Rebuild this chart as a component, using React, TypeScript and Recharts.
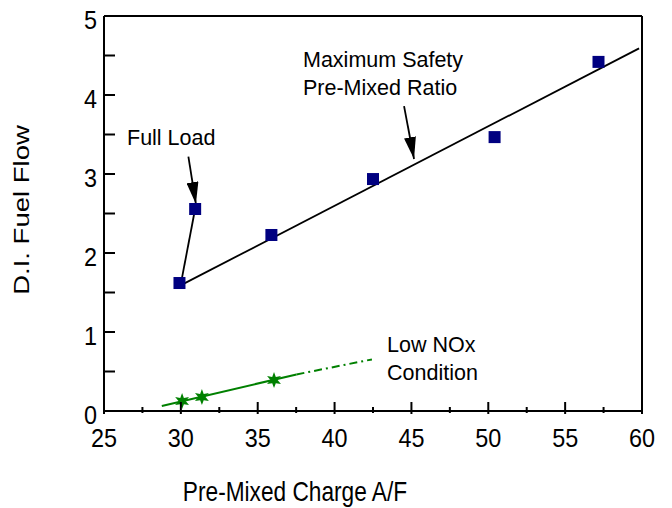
import React from 'react';
import { ComposedChart, XAxis, YAxis, Scatter, Line, ReferenceLine } from 'recharts';

// ---- tick values ----
const xTicks = [25, 27.5, 30, 32.5, 35, 37.5, 40, 42.5, 45, 47.5, 50, 52.5, 55, 57.5, 60];
const xTickLabels = [25, 30, 35, 40, 45, 50, 55, 60];
const yTicks = [0, 0.5, 1, 1.5, 2, 2.5, 3, 3.5, 4, 4.5, 5];
const yTickLabels = [0, 1, 2, 3, 4, 5];

// ---- D.I. fuel flow (blue squares) ----
const diAF = [29.91, 30.93, 35.89, 42.5, 50.41, 57.17];
const diFlow = [1.62, 2.557, 2.228, 2.936, 3.467, 4.419];

// ---- maximum safety pre-mixed ratio line ----
const safetyAF = [29.98, 59.81];
const safetyFlow = [1.59, 4.59];

// ---- full load segment ----
const fullLoadAF = [29.98, 30.93];
const fullLoadFlow = [1.59, 2.56];

// ---- low NOx condition (green) ----
const noxAF = [30.08, 31.37, 36.06];
const noxFlow = [0.126, 0.177, 0.392];
const noxFitAF = [28.76, 37.52];
const noxFitFlow = [0.063, 0.463];
const noxExtAF = [37.52, 42.43];
const noxExtFlow = [0.463, 0.653];

// ---- annotation arrows (tail -> tip) ----
const fullLoadArrowAF = [30.49, 30.98];
const fullLoadArrowFlow = [3.22, 2.62];
const safetyArrowAF = [44.52, 45.17];
const safetyArrowFlow = [3.86, 3.19];

const zip = (xs: number[], ys: number[]) => xs.map((x, i) => ({ x, y: ys[i] }));

const diData = zip(diAF, diFlow);
const safetyData = zip(safetyAF, safetyFlow);
const fullLoadData = zip(fullLoadAF, fullLoadFlow);
const noxData = zip(noxAF, noxFlow);
const noxFitData = zip(noxFitAF, noxFitFlow);
const noxExtData = zip(noxExtAF, noxExtFlow);
const fullLoadArrowData = zip(fullLoadArrowAF, fullLoadArrowFlow);
const safetyArrowData = zip(safetyArrowAF, safetyArrowFlow);

const FONT = '"Liberation Sans", Arial, Helvetica, sans-serif';
const BLUE = '#000080';
const GREEN = '#008000';

const XTick = (props: any) => {
  const { x, y, payload } = props;
  const v = payload.value;
  const major = xTickLabels.includes(v);
  return (
    <g>
      <line x1={x} x2={x} y1={y - (major ? 9 : 4)} y2={y + (major ? 3 : 2)} stroke="#000" strokeWidth={2} />
      {major && (
        <text
          transform={`translate(${x},${y + 36}) scale(0.9,1)`}
          textAnchor="middle"
          fontSize={26}
          fontFamily={FONT}
          fill="#000"
        >
          {v}
        </text>
      )}
    </g>
  );
};

const YTick = (props: any) => {
  const { x, y, payload } = props;
  const v = payload.value;
  const major = yTickLabels.includes(v);
  return (
    <g>
      <line x1={x} x2={x + 11} y1={y} y2={y} stroke="#000" strokeWidth={2} />
      {major && (
        <text
          transform={`translate(${x - 7},${y + 13}) scale(0.9,1)`}
          textAnchor="end"
          fontSize={26}
          fontFamily={FONT}
          fill="#000"
        >
          {v}
        </text>
      )}
    </g>
  );
};

const SquareShape = (props: any) => {
  const { cx, cy } = props;
  return <rect x={cx - 6} y={cy - 6} width={12} height={12} fill={BLUE} />;
};

const StarShape = (props: any) => {
  const { cx, cy } = props;
  const pts: string[] = [];
  for (let i = 0; i < 12; i++) {
    const r = i % 2 === 0 ? 8 : 3.6;
    const a = (Math.PI / 6) * i - Math.PI / 2;
    pts.push(`${cx + r * Math.cos(a)},${cy + r * Math.sin(a)}`);
  }
  return <polygon points={pts.join(' ')} fill={GREEN} />;
};

const annot = { fontSize: 21.5, fontFamily: FONT, fill: '#000' } as const;

export default function App() {
  return (
    <div style={{ position: 'absolute', left: 0, top: 0 }}>
      <ComposedChart
        width={672}
        height={508}
        margin={{ top: 16, right: 30, bottom: 67, left: 44 }}
      >
        <defs>
          <marker
            id="arrowHead"
            markerWidth={22}
            markerHeight={12}
            refX={22}
            refY={6}
            orient="auto"
            markerUnits="userSpaceOnUse"
          >
            <path d="M0,0 L22,6 L0,12 Z" fill="#000" />
          </marker>
        </defs>
        <XAxis
          type="number"
          dataKey="x"
          domain={[25, 60]}
          ticks={xTicks}
          interval={0}
          allowDataOverflow
          height={30}
          tickSize={0}
          tickMargin={0}
          tickLine={false}
          axisLine={{ stroke: '#000', strokeWidth: 2 }}
          tick={(p: any) => <XTick {...p} />}
        />
        <YAxis
          type="number"
          dataKey="y"
          domain={[0, 5]}
          ticks={yTicks}
          interval={0}
          allowDataOverflow
          width={60}
          tickSize={0}
          tickMargin={0}
          tickLine={false}
          axisLine={{ stroke: '#000', strokeWidth: 2 }}
          tick={(p: any) => <YTick {...p} />}
        />
        <ReferenceLine y={5} stroke="#000" strokeWidth={2} />
        <ReferenceLine x={60} stroke="#000" strokeWidth={2} />

        <Line data={safetyData} dataKey="y" stroke="#000" strokeWidth={1.8} dot={false} activeDot={false} isAnimationActive={false} />
        <Line data={fullLoadData} dataKey="y" stroke="#000" strokeWidth={1.8} dot={false} activeDot={false} isAnimationActive={false} />
        <Line data={fullLoadArrowData} dataKey="y" stroke="#000" strokeWidth={1.8} dot={false} activeDot={false} markerEnd="url(#arrowHead)" isAnimationActive={false} />
        <Line data={safetyArrowData} dataKey="y" stroke="#000" strokeWidth={1.8} dot={false} activeDot={false} markerEnd="url(#arrowHead)" isAnimationActive={false} />

        <Line data={noxFitData} dataKey="y" stroke={GREEN} strokeWidth={2} dot={false} activeDot={false} isAnimationActive={false} />
        <Line data={noxExtData} dataKey="y" stroke={GREEN} strokeWidth={2} strokeDasharray="8 4 2 4" dot={false} activeDot={false} isAnimationActive={false} />

        <Scatter data={diData} shape={(p: any) => <SquareShape {...p} />} isAnimationActive={false} />
        <Scatter data={noxData} shape={(p: any) => <StarShape {...p} />} isAnimationActive={false} />

        <text x={127} y={145} {...annot}>Full Load</text>
        <text x={303} y={67} {...annot}>Maximum Safety</text>
        <text x={303} y={95} {...annot}>Pre-Mixed Ratio</text>
        <text x={387} y={352} {...annot}>Low NOx</text>
        <text x={387} y={380} {...annot}>Condition</text>

        <text
          transform="translate(295,501) scale(0.81,1)"
          textAnchor="middle"
          fontSize={28}
          fontFamily={FONT}
          fill="#000"
        >
          Pre-Mixed Charge A/F
        </text>
        <text
          transform="translate(29.3,210) rotate(-90) scale(1,0.8)"
          textAnchor="middle"
          fontSize={27.5}
          fontFamily={FONT}
          fill="#000"
        >
          D.I. Fuel Flow
        </text>
      </ComposedChart>
    </div>
  );
}
